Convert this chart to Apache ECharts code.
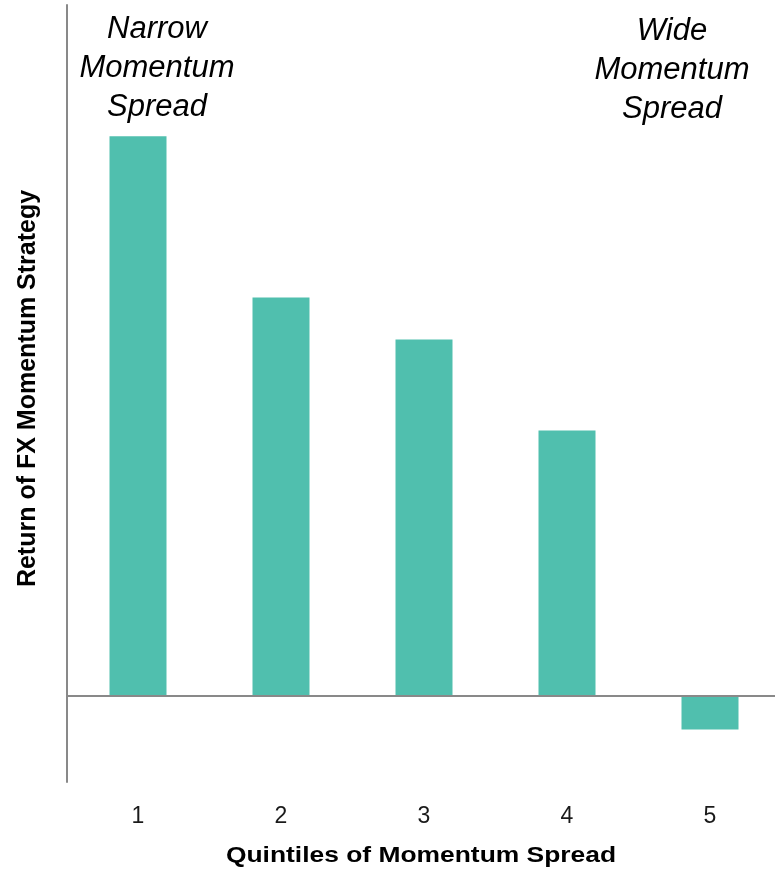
<!DOCTYPE html>
<html>
<head>
<meta charset="utf-8">
<script src="https://cdn.jsdelivr.net/npm/echarts@6/dist/echarts.min.js"></script>
<style>
  html, body { margin: 0; padding: 0; background: #fff; }
  #main { width: 775px; height: 869px; }
</style>
</head>
<body>
<div id="main"></div>
<script>
// quintiles of momentum spread
var quintiles = ['1', '2', '3', '4', '5'];
// return of FX momentum strategy (no scale shown on chart, relative units)
var returns = [5.59, 3.98, 3.56, 2.65, -0.335];

var axisGray = '#898989';
var barColor = '#50BFAE';
var font = '"Liberation Sans", Arial, sans-serif';

var myChart = echarts.init(document.getElementById('main'));
var option = {
	backgroundColor: '#ffffff',
	animation: false,
	grid: {
		left: 66.5,
		width: 715,
		top: 5,
		bottom: 87,
		outerBoundsMode: 'none'
	},
	xAxis: {
		type: 'category',
		data: quintiles,
		axisLine: { show: false, onZero: false },
		axisTick: { show: false },
		axisLabel: {
			color: '#1a1a1a',
			fontFamily: font,
			fontSize: 23,
			margin: 23
		}
	},
	yAxis: {
		type: 'value',
		min: -0.86,
		max: 6.9,
		axisLine: {
			show: true,
			lineStyle: { color: axisGray, width: 2 }
		},
		axisTick: { show: false },
		axisLabel: { show: false },
		splitLine: { show: false },
		name: 'Return of FX Momentum Strategy',
		nameLocation: 'middle',
		nameRotate: 90,
		nameGap: 26,
		nameTextStyle: {
			color: '#000',
			fontFamily: font,
			fontSize: 25,
			fontWeight: 'bold',
			padding: [0, 0, 0, 10]
		}
	},
	series: [{
		type: 'bar',
		data: returns,
		barWidth: 57,
		itemStyle: { color: barColor },
		markLine: {
			silent: true,
			symbol: 'none',
			label: { show: false },
			lineStyle: { color: axisGray, width: 2, type: 'solid' },
			data: [{ yAxis: 0 }]
		}
	}],
	graphic: [{
		// x axis title
		type: 'text',
		x: 421,
		y: 856,
		scaleX: 1.2,
		style: {
			text: 'Quintiles of Momentum Spread',
			align: 'center',
			verticalAlign: 'middle',
			font: 'bold 22px ' + font,
			fill: '#000'
		}
	}, {
		type: 'text',
		x: 157,
		y: 10,
		style: {
			text: 'Narrow\nMomentum\nSpread',
			align: 'center',
			font: 'italic 31px ' + font,
			lineHeight: 39,
			fill: '#000'
		}
	}, {
		type: 'text',
		x: 672,
		y: 12,
		style: {
			text: 'Wide\nMomentum\nSpread',
			align: 'center',
			font: 'italic 31px ' + font,
			lineHeight: 39,
			fill: '#000'
		}
	}]
};
myChart.setOption(option);
</script>
</body>
</html>
